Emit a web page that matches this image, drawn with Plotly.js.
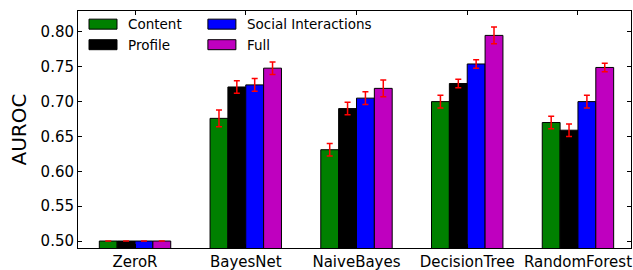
<!DOCTYPE html>
<html><head><meta charset="utf-8">
<script src="https://cdn.plot.ly/plotly-3.0.1.min.js"></script>
<style>html,body{margin:0;padding:0;background:#fff}</style>
</head><body>
<div id="chart" style="width:633px;height:270px"></div>
<script>
const categories = ["ZeroR", "BayesNet", "NaiveBayes", "DecisionTree", "RandomForest"];
const contentVals = [0.500, 0.676, 0.631, 0.700, 0.670];
const contentErr  = [0.000, 0.012, 0.009, 0.009, 0.009];
const profileVals = [0.500, 0.721, 0.690, 0.726, 0.659];
const profileErr  = [0.000, 0.009, 0.009, 0.006, 0.009];
const socialVals  = [0.500, 0.724, 0.705, 0.754, 0.700];
const socialErr   = [0.000, 0.009, 0.009, 0.006, 0.009];
const fullVals    = [0.500, 0.748, 0.719, 0.795, 0.749];
const fullErr     = [0.000, 0.009, 0.012, 0.012, 0.006];
const yTicks = [0.50, 0.55, 0.60, 0.65, 0.70, 0.75, 0.80];

function mk(name, vals, errs, color, legend) {
  return {
    type: 'bar', name: name, x: categories, y: vals, legend: legend,
    marker: {color: color, line: {color: '#000', width: 1}},
    error_y: {type: 'data', array: errs, visible: true, color: '#ff0000', thickness: 1.5, width: 3}
  };
}
const data = [
  mk('Content', contentVals, contentErr, '#008000', 'legend'),
  mk('Profile', profileVals, profileErr, '#000000', 'legend'),
  mk('Social Interactions', socialVals, socialErr, '#0000ff', 'legend2'),
  mk('Full', fullVals, fullErr, '#bf00bf', 'legend2')
];
const font = {family: 'DejaVu Sans', size: 15, color: '#000'};
const legendCommon = {
  orientation: 'v', xanchor: 'left', yanchor: 'top', y: 1.009,
  bgcolor: 'rgba(0,0,0,0)', borderwidth: 0,
  font: {family: 'DejaVu Sans', size: 13.5, color: '#000'},
  itemwidth: 40, tracegroupgap: 0
};
const layout = {
  width: 633, height: 270,
  margin: {l: 78, r: 2, t: 11, b: 22},
  paper_bgcolor: '#fff', plot_bgcolor: '#fff',
  font: font,
  barmode: 'group', bargap: 0.355, bargroupgap: 0,
  showlegend: true,
  legend: Object.assign({}, legendCommon, {x: 0.0}),
  legend2: Object.assign({}, legendCommon, {x: 0.215}),
  xaxis: {
    type: 'category', range: [-0.515, 4.479],
    showline: true, linecolor: '#000', linewidth: 1, mirror: 'ticks',
    ticks: 'inside', ticklen: 4, tickcolor: '#000',
    showgrid: false, zeroline: false,
    tickfont: font
  },
  yaxis: {
    range: [0.49, 0.83], tickvals: yTicks, tickformat: '.2f',
    showline: true, linecolor: '#000', linewidth: 1, mirror: 'ticks',
    ticks: 'inside', ticklen: 4, tickcolor: '#000',
    showgrid: false, zeroline: false,
    tickfont: font,
    title: {text: 'AUROC', font: {family: 'DejaVu Sans', size: 20, color: '#000'}, standoff: 8}
  }
};
Plotly.newPlot('chart', data, layout, {displayModeBar: false, staticPlot: true}).then(function () {
  document.querySelectorAll('.legendpoints path').forEach(function (p) {
    p.setAttribute('d', 'M14,5H-14V-5H14Z');
  });
});
</script>
</body></html>
